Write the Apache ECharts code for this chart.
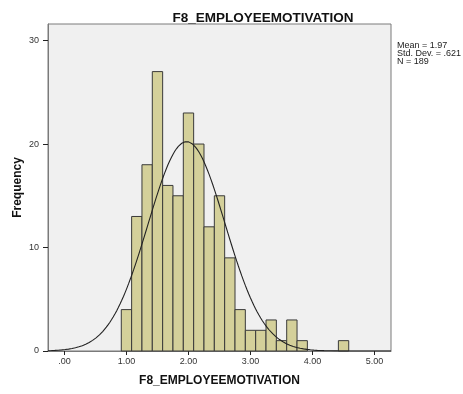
<!DOCTYPE html>
<html>
<head>
<meta charset="utf-8">
<script src="https://cdn.jsdelivr.net/npm/echarts@6/dist/echarts.min.js"></script>
<style>
  html, body { margin: 0; padding: 0; background: #fff; }
  #main { width: 463px; height: 394px; }
</style>
</head>
<body>
<div id="main"></div>
<script>
// bin centres (width 1/6) and counts
const binCenters = [1.00, 1.1667, 1.3333, 1.50, 1.6667, 1.8333, 2.00, 2.1667, 2.3333, 2.50, 2.6667,
  2.8333, 3.00, 3.1667, 3.3333, 3.50, 3.6667, 3.8333, 4.00, 4.1667, 4.3333, 4.50];
const counts = [4, 13, 18, 27, 16, 15, 23, 20, 12, 15, 9, 4, 2, 2, 3, 1, 3, 1, 0, 0, 0, 1];
const binWidth = 1 / 6;
const xTicks = [0, 1, 2, 3, 4, 5];
const yTicks = [0, 10, 20, 30];
const stats = { mean: 1.97, sd: 0.621, n: 189 };

const xMin = -0.265, xMax = 5.265;

// fitted normal curve from the reported mean / sd / N
const curve = [];
for (let i = 0; i <= 200; i++) {
  const x = xMin + (xMax - xMin) * i / 200;
  const z = (x - stats.mean) / stats.sd;
  const y = stats.n * binWidth * Math.exp(-0.5 * z * z) / (stats.sd * Math.sqrt(2 * Math.PI));
  curve.push([x, y]);
}

const chart = echarts.init(document.getElementById('main'));
const font = 'Arial, "Liberation Sans", sans-serif';

chart.setOption({
  backgroundColor: '#fff',
  animation: false,
  title: {
    text: 'F8_EMPLOYEEMOTIVATION',
    left: 258,
    textAlign: 'center',
    top: 6,
    textStyle: { fontFamily: font, fontSize: 13.5, fontWeight: 'bold', color: '#111' }
  },
  graphic: [{
    type: 'text',
    left: 397,
    top: 41,
    style: {
      text: 'Mean = 1.97\nStd. Dev. = .621\nN = 189',
      font: '9px ' + font,
      lineHeight: 8,
      fill: '#222'
    }
  }],
  grid: {
    left: 48, right: 72, top: 24, bottom: 43,
    show: true,
    backgroundColor: '#f0f0f0',
    borderColor: '#7a7a7a',
    borderWidth: 1
  },
  xAxis: {
    type: 'value',
    min: xMin,
    max: xMax,
    name: 'F8_EMPLOYEEMOTIVATION',
    nameLocation: 'middle',
    nameGap: 24,
    nameMoveOverlap: false,
    nameTextStyle: { fontFamily: font, fontSize: 12, fontWeight: 'bold', color: '#111' },
    axisLine: { show: true, onZero: false, lineStyle: { color: '#7a7a7a' } },
    axisTick: { show: true, length: 4, customValues: xTicks, lineStyle: { color: '#222' } },
    axisLabel: {
      customValues: xTicks,
      margin: 6,
      fontFamily: font, fontSize: 9, color: '#333',
      formatter: v => v === 0 ? '.00' : v.toFixed(2)
    },
    splitLine: { show: false }
  },
  yAxis: {
    type: 'value',
    min: 0,
    max: 31.6,
    name: 'Frequency',
    nameLocation: 'middle',
    nameGap: 24,
    nameMoveOverlap: false,
    nameTextStyle: { fontFamily: font, fontSize: 12, fontWeight: 'bold', color: '#111' },
    axisLine: { show: true, onZero: false, lineStyle: { color: '#7a7a7a' } },
    axisTick: { show: true, length: 5, customValues: yTicks, lineStyle: { color: '#222' } },
    axisLabel: { customValues: yTicks, margin: 9, fontFamily: font, fontSize: 9, color: '#333' },
    splitLine: { show: false }
  },
  series: [
    {
      type: 'custom',
      data: binCenters.map((c, i) => [c, counts[i]]),
      renderItem: (params, api) => {
        const c = api.value(0), v = api.value(1);
        if (!v) return;
        const p0 = api.coord([c - binWidth / 2, v]);
        const p1 = api.coord([c + binWidth / 2, 0]);
        return {
          type: 'rect',
          shape: { x: p0[0], y: p0[1], width: p1[0] - p0[0], height: p1[1] - p0[1] },
          style: { fill: '#d4d09a', stroke: '#3a3a3a', lineWidth: 1 }
        };
      },
      z: 2
    },
    {
      type: 'line',
      data: curve,
      showSymbol: false,
      symbol: 'none',
      lineStyle: { color: '#222', width: 1.1 },
      clip: true,
      z: 3
    }
  ]
});
</script>
</body>
</html>
